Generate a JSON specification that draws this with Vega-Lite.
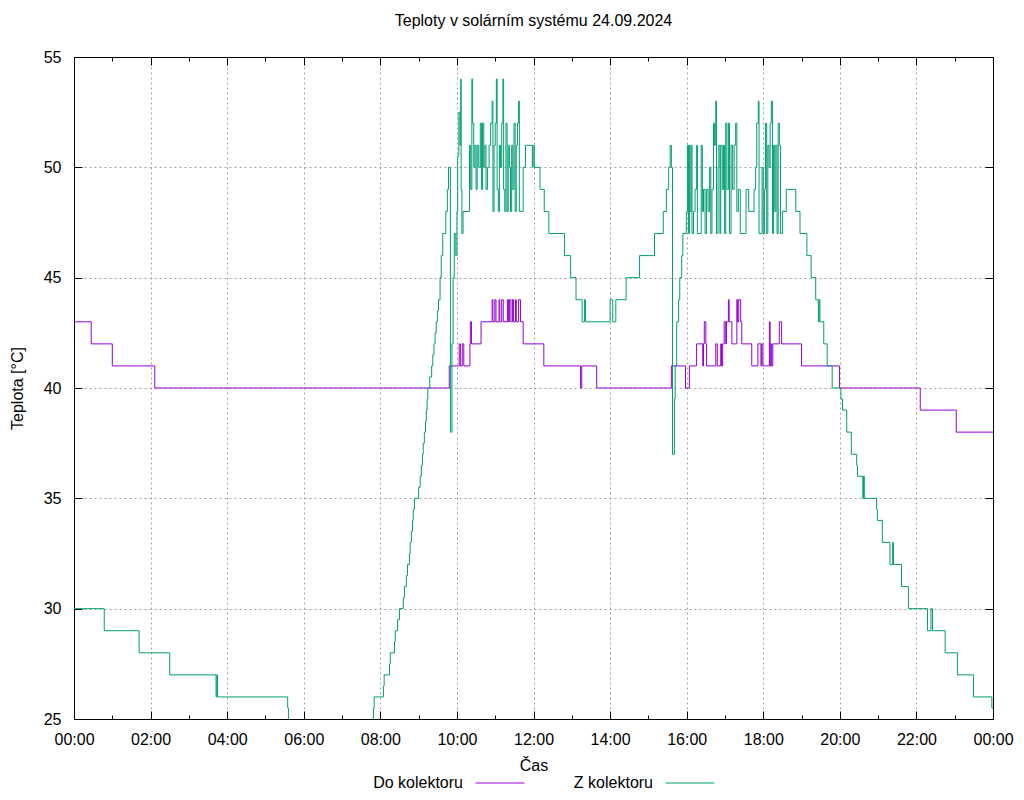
{
"$schema": "https://vega.github.io/schema/vega-lite/v6.json",
"width": 919, "height": 662,
"autosize": "none",
"padding": {"left": 74, "top": 57, "right": 31, "bottom": 81},
"background": "white",
"config": {"font": "Liberation Sans", "view": {"stroke": null}},
"title": {"text": "Teploty v solárním systému 24.09.2024", "fontSize": 16, "fontWeight": "normal", "color": "black", "anchor": "middle", "offset": 20},
"datasets": {
"do": [
{"h":0,"t":43},{"h":0.45,"t":42},{"h":1.0,"t":41},{"h":2.11,"t":40},{"h":9.80,"t":41},{"h":10.06,"t":42},{"h":10.09,"t":41},{"h":10.14,"t":42},{"h":10.18,"t":41},{"h":10.34,"t":42},{"h":10.35,"t":43},{"h":10.38,"t":42},{"h":10.63,"t":43},
{"h":10.92,"t":44},{"h":10.94,"t":43},{"h":10.99,"t":44},{"h":11.02,"t":43},{"h":11.10,"t":44},{"h":11.12,"t":43},{"h":11.17,"t":44},{"h":11.21,"t":43},{"h":11.32,"t":44},{"h":11.35,"t":43},{"h":11.37,"t":44},{"h":11.41,"t":43},{"h":11.45,"t":44},{"h":11.48,"t":43},{"h":11.53,"t":44},{"h":11.55,"t":43},{"h":11.61,"t":44},{"h":11.66,"t":43},
{"h":11.73,"t":42},{"h":12.27,"t":41},{"h":13.23,"t":40},{"h":13.26,"t":41},{"h":13.65,"t":40},{"h":15.60,"t":41},{"h":15.97,"t":40},{"h":16.07,"t":41},{"h":16.26,"t":42},{"h":16.42,"t":41},{"h":16.44,"t":42},{"h":16.46,"t":43},{"h":16.50,"t":42},{"h":16.52,"t":41},{"h":16.76,"t":42},{"h":16.80,"t":41},{"h":16.89,"t":42},{"h":16.91,"t":41},{"h":16.94,"t":42},{"h":16.98,"t":43},{"h":17.02,"t":42},{"h":17.04,"t":43},{"h":17.09,"t":44},{"h":17.11,"t":43},{"h":17.18,"t":42},{"h":17.31,"t":44},{"h":17.33,"t":43},{"h":17.36,"t":44},{"h":17.41,"t":43},{"h":17.44,"t":42},{"h":17.70,"t":41},{"h":17.86,"t":42},{"h":17.94,"t":41},{"h":17.96,"t":42},{"h":17.99,"t":41},{"h":18.16,"t":43},{"h":18.18,"t":41},{"h":18.20,"t":42},{"h":18.22,"t":41},{"h":18.25,"t":42},{"h":18.42,"t":43},{"h":18.48,"t":42},{"h":19.00,"t":41},{"h":19.99,"t":40},{"h":22.10,"t":39},{"h":23.04,"t":38},{"h":24,"t":38}
],
"z": [
{"h":0,"t":30},{"h":0.79,"t":29},{"h":1.70,"t":28},{"h":2.50,"t":27},{"h":3.71,"t":26},{"h":3.73,"t":27},{"h":3.75,"t":26},{"h":5.58,"t":25.5},{"h":5.60,"t":24},{"h":7.82,"t":25.5},{"h":7.84,"t":26},{"h":8.08,"t":26.5},{"h":8.10,"t":27},{"h":8.24,"t":27.5},{"h":8.26,"t":28},{"h":8.37,"t":28.5},{"h":8.39,"t":29},{"h":8.45,"t":29.5},{"h":8.50,"t":30},{"h":8.60,"t":30.5},{"h":8.63,"t":31},{"h":8.68,"t":31.5},{"h":8.71,"t":32},{"h":8.76,"t":32.5},{"h":8.78,"t":33},{"h":8.81,"t":33.5},{"h":8.84,"t":34},{"h":8.86,"t":34.5},{"h":8.89,"t":35},{"h":9.00,"t":35.5},{"h":9.04,"t":36},{"h":9.07,"t":36.5},{"h":9.10,"t":37},{"h":9.12,"t":37.5},{"h":9.15,"t":38},{"h":9.18,"t":38.5},{"h":9.20,"t":39},{"h":9.22,"t":39.5},{"h":9.24,"t":40},{"h":9.29,"t":40.5},{"h":9.34,"t":41},{"h":9.37,"t":41.5},{"h":9.40,"t":42},{"h":9.43,"t":42.5},{"h":9.46,"t":43},{"h":9.49,"t":43.5},{"h":9.52,"t":44},{"h":9.56,"t":45},{"h":9.59,"t":46},{"h":9.63,"t":47},{"h":9.71,"t":48},{"h":9.75,"t":49},{"h":9.78,"t":50},
{"h":9.83,"t":38},{"h":9.87,"t":42},{"h":9.90,"t":45},{"h":9.93,"t":47},{"h":9.97,"t":46},{"h":10.00,"t":48},{"h":10.02,"t":50.5},{"h":10.05,"t":52.5},{"h":10.08,"t":51},{"h":10.10,"t":54},{"h":10.11,"t":49},{"h":10.13,"t":47},{"h":10.16,"t":48},
{"h":10.33,"t":51},{"h":10.36,"t":49},{"h":10.39,"t":54},{"h":10.41,"t":52},{"h":10.44,"t":50},{"h":10.47,"t":51},{"h":10.50,"t":49},{"h":10.53,"t":51},{"h":10.57,"t":50},{"h":10.61,"t":52},{"h":10.64,"t":49},{"h":10.67,"t":52},{"h":10.70,"t":50},{"h":10.73,"t":51},{"h":10.76,"t":49},{"h":10.80,"t":50},{"h":10.84,"t":51},{"h":10.88,"t":52},{"h":10.92,"t":53},{"h":10.94,"t":48},{"h":10.97,"t":51},{"h":11.00,"t":52},{"h":11.03,"t":54},{"h":11.05,"t":49},{"h":11.08,"t":48},{"h":11.11,"t":51},{"h":11.14,"t":50},{"h":11.17,"t":52},{"h":11.20,"t":54},{"h":11.22,"t":49},{"h":11.25,"t":48},{"h":11.28,"t":52},{"h":11.31,"t":48},{"h":11.34,"t":51},{"h":11.37,"t":50},{"h":11.40,"t":48},{"h":11.43,"t":51},{"h":11.46,"t":49},{"h":11.49,"t":52},{"h":11.52,"t":48},{"h":11.55,"t":51},{"h":11.58,"t":52},{"h":11.61,"t":53},{"h":11.63,"t":48},{"h":11.73,"t":50},{"h":11.79,"t":51},{"h":11.97,"t":50},{"h":11.99,"t":51},{"h":12.02,"t":50},{"h":12.17,"t":49},{"h":12.28,"t":48},{"h":12.40,"t":47},{"h":12.81,"t":46},{"h":12.97,"t":45},{"h":13.11,"t":44},{"h":13.27,"t":43},{"h":13.33,"t":44},{"h":13.36,"t":43},{"h":14.00,"t":44},{"h":14.07,"t":43},{"h":14.15,"t":44},{"h":14.42,"t":45},{"h":14.77,"t":46},{"h":15.16,"t":47},{"h":15.39,"t":48},{"h":15.47,"t":49},{"h":15.53,"t":50},{"h":15.57,"t":51},{"h":15.60,"t":50},{"h":15.63,"t":37},{"h":15.68,"t":39.5},{"h":15.70,"t":41},{"h":15.74,"t":43},{"h":15.79,"t":44},{"h":15.82,"t":45},{"h":15.87,"t":46},{"h":15.90,"t":47},{"h":15.99,"t":48},
{"h":16.02,"t":51},{"h":16.05,"t":47},{"h":16.07,"t":51},{"h":16.09,"t":48},{"h":16.12,"t":51},{"h":16.14,"t":47},{"h":16.18,"t":48},{"h":16.22,"t":49},{"h":16.26,"t":51},{"h":16.28,"t":47},{"h":16.38,"t":51},{"h":16.41,"t":48},{"h":16.44,"t":49},{"h":16.48,"t":47},{"h":16.52,"t":49},{"h":16.56,"t":48},{"h":16.60,"t":50},{"h":16.63,"t":47},{"h":16.66,"t":49},{"h":16.70,"t":52},{"h":16.73,"t":51},{"h":16.76,"t":53},{"h":16.78,"t":47},{"h":16.82,"t":50},{"h":16.84,"t":51},{"h":16.87,"t":47},{"h":16.89,"t":51},{"h":16.93,"t":49},{"h":16.96,"t":51},{"h":16.99,"t":47},{"h":17.02,"t":52},{"h":17.05,"t":49},{"h":17.09,"t":52},{"h":17.12,"t":47},{"h":17.16,"t":51},{"h":17.20,"t":49},{"h":17.24,"t":51},{"h":17.28,"t":52},{"h":17.31,"t":48},{"h":17.35,"t":49},{"h":17.40,"t":47},{"h":17.55,"t":49},{"h":17.62,"t":48},{"h":17.70,"t":48},{"h":17.76,"t":49},{"h":17.80,"t":50},{"h":17.83,"t":52},{"h":17.87,"t":53},{"h":17.89,"t":47},{"h":17.97,"t":50},{"h":18.00,"t":47},{"h":18.03,"t":49},{"h":18.06,"t":52},{"h":18.09,"t":47},{"h":18.12,"t":51},{"h":18.15,"t":50},{"h":18.18,"t":52},{"h":18.21,"t":53},{"h":18.24,"t":47},{"h":18.27,"t":51},{"h":18.30,"t":48},{"h":18.33,"t":51},{"h":18.36,"t":47},{"h":18.39,"t":52},{"h":18.42,"t":51},{"h":18.45,"t":47},{"h":18.50,"t":48},{"h":18.60,"t":49},{"h":18.85,"t":48},{"h":18.96,"t":47},{"h":19.14,"t":46},{"h":19.25,"t":45},{"h":19.37,"t":44},{"h":19.44,"t":43},{"h":19.46,"t":44},{"h":19.48,"t":43},{"h":19.58,"t":42},{"h":19.67,"t":41},{"h":19.80,"t":40},{"h":20.03,"t":39.5},{"h":20.07,"t":39},{"h":20.18,"t":38},{"h":20.30,"t":37},{"h":20.44,"t":36.5},{"h":20.46,"t":36},{"h":20.60,"t":35},{"h":20.62,"t":36},{"h":20.64,"t":35},{"h":20.96,"t":34.5},{"h":20.98,"t":34},{"h":21.11,"t":33},{"h":21.31,"t":32},{"h":21.38,"t":33},{"h":21.40,"t":32},{"h":21.61,"t":31},{"h":21.79,"t":30},{"h":22.29,"t":29},{"h":22.38,"t":30},{"h":22.42,"t":29},{"h":22.75,"t":28},{"h":23.07,"t":27},{"h":23.49,"t":26},{"h":23.97,"t":25.5},{"h":24,"t":25.5}
]
},
"resolve": {"scale": {"x": "shared", "y": "shared", "color": "shared"}, "axis": {"x": "independent", "y": "independent"}},
"layer": [
{
"data": {"name": "do"},
"transform": [{"calculate": "'Do kolektoru'", "as": "serie"}],
"mark": {"type": "line", "interpolate": "step-after", "strokeWidth": 1, "clip": true},
"encoding": {
"x": {"field": "h", "type": "quantitative", "scale": {"domain": [0, 24], "nice": false, "zero": false},
 "axis": {"orient": "bottom", "values": [0,2,4,6,8,10,12,14,16,18,20,22,24], "labelExpr": "datum.value == 24 ? '00:00' : (datum.value < 10 ? '0' : '') + datum.value + ':00'", "labelFlush": false, "labelOverlap": false, "grid": true, "gridColor": "#a0a0a0", "gridDash": [2, 3], "gridOpacity": 1, "tickSize": -8, "tickColor": "black", "domainColor": "black", "labelFontSize": 16, "labelColor": "black", "labelPadding": 20, "title": "Čas", "titleFontSize": 16, "titleFontWeight": "normal", "titleColor": "black", "titlePadding": 10}},
"y": {"field": "t", "type": "quantitative", "scale": {"domain": [25, 55], "nice": false, "zero": false},
 "axis": {"orient": "left", "values": [25,30,35,40,45,50,55], "labelFlush": false, "labelOverlap": false, "grid": true, "gridColor": "#a0a0a0", "gridDash": [2, 3], "gridOpacity": 1, "tickSize": -8, "tickColor": "black", "domainColor": "black", "labelFontSize": 16, "labelColor": "black", "labelPadding": 21, "title": "Teplota [°C]", "titleFontSize": 16, "titleFontWeight": "normal", "titleColor": "black", "titlePadding": 18}},
"color": {"field": "serie", "type": "nominal", "scale": {"domain": ["Do kolektoru", "Z kolektoru"], "range": ["#9400d3", "#009e73"]},
 "legend": {"title": null, "orient": "none", "legendX": 401, "legendY": 701, "direction": "horizontal", "symbolType": "stroke", "symbolSize": 2401, "symbolStrokeWidth": 1, "labelAlign": "right", "labelOffset": -62, "labelFontSize": 16, "labelColor": "black", "columnPadding": 46}}
}
},
{
"data": {"name": "z"},
"transform": [{"calculate": "'Z kolektoru'", "as": "serie"}],
"mark": {"type": "line", "interpolate": "step-after", "strokeWidth": 1, "clip": true},
"encoding": {
"x": {"field": "h", "type": "quantitative",
 "axis": {"orient": "top", "values": [0,2,4,6,8,10,12,14,16,18,20,22,24], "labels": false, "grid": false, "tickSize": -8, "tickColor": "black", "domainColor": "black", "title": null}},
"y": {"field": "t", "type": "quantitative",
 "axis": {"orient": "right", "values": [25,30,35,40,45,50,55], "labels": false, "grid": false, "tickSize": -8, "tickColor": "black", "domainColor": "black", "title": null}},
"color": {"field": "serie", "type": "nominal"}
}
},
{
"data": {"values": []},
"mark": {"type": "rule"},
"encoding": {
"x": {"field": "h", "type": "quantitative",
 "axis": {"orient": "bottom", "values": [1,3,5,7,9,11,13,15,17,19,21,23], "labels": false, "grid": false, "domain": false, "tickSize": -4, "tickColor": "black", "title": null}}
}
},
{
"data": {"values": []},
"mark": {"type": "rule"},
"encoding": {
"x": {"field": "h", "type": "quantitative",
 "axis": {"orient": "top", "values": [1,3,5,7,9,11,13,15,17,19,21,23], "labels": false, "grid": false, "domain": false, "tickSize": -4, "tickColor": "black", "title": null}}
}
}
]
}
